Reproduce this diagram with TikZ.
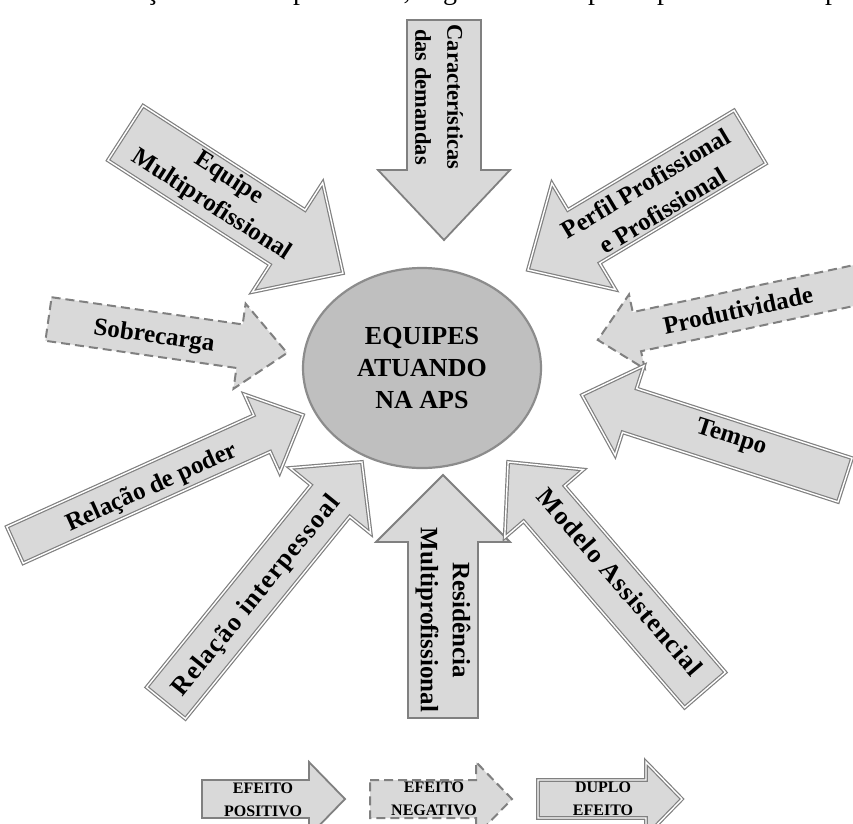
\documentclass[tikz,border=0pt]{standalone}
\usepackage{fontspec}
\setmainfont{Liberation Serif}
\usetikzlibrary{shapes.geometric}

\definecolor{shade}{RGB}{217,217,217}
\definecolor{rim}{RGB}{128,128,128}
\definecolor{corefill}{RGB}{191,191,191}
\definecolor{corerim}{RGB}{140,140,140}

\tikzset{
  goodfx/.style={draw=rim, fill=shade, line width=1.8pt, line join=miter},
  badfx/.style={draw=rim, fill=shade, line width=2pt, dash pattern=on 9pt off 5pt},
  bothfx/.style={draw=rim, fill=shade, line width=1.2pt, double=white,
                 double distance=1.4pt, line join=miter},
  armtext/.style={font=\bfseries\fontsize{25}{32}\selectfont, align=center, inner sep=0pt},
  uprighttext/.style={font=\bfseries\fontsize{22.5}{32}\selectfont, align=center, inner sep=0pt},
  widetext/.style={font=\bfseries\fontsize{26}{32}\selectfont\addfontfeature{LetterSpace=#1},
                   align=center, inner sep=0pt},
  legendtxt/.style={font=\bfseries\fontsize{16}{23}\selectfont, align=center, inner sep=0pt},
  frag/.style={font=\fontsize{28}{34}\selectfont, anchor=base, inner sep=0pt},
}

% block arrow: style, tail centre, direction, total length,
% shaft half-width, head half-width, head length
\newcommand\blockarrow[7]{%
  \begin{scope}[shift={#2}, rotate=#3]
    \draw[#1] (0,-#5) -- ({#4-#7},-#5) -- ({#4-#7},-#6) -- (#4,0)
      -- ({#4-#7},#6) -- ({#4-#7},#5) -- (0,#5) -- cycle;
  \end{scope}}

\begin{document}
\begin{tikzpicture}[x=1pt,y=-1pt]
\useasboundingbox (0,0) rectangle (853,823);
\fill[white] (0,0) rectangle (853,823);
\clip (0,0) rectangle (853,823);

% descenders of the running text line above the figure
\node[frag] (f1) at (152,-0.5) {ç};
\node[frag] (f2) at (300,-0.5) {p};
\node[frag] (f3) at (407,-0.5) {,};
\node[frag] (f4) at (450,-0.5) {g};
\node[frag] (f5) at (595,-0.5) {p};
\node[frag] (f6) at (664,-0.5) {p};
\node[frag] (f7) at (832,-0.5) {p};

% central ellipse
\node[ellipse, draw=corerim, fill=corefill, line width=2.2pt,
      minimum width=238pt, minimum height=200pt, inner sep=0pt, align=center,
      font=\bfseries\fontsize{26}{32}\selectfont] (core) at (422,368)
      {EQUIPES\\ATUANDO\\NA APS};

% factors pointing at the centre
\blockarrow{goodfx}{(444,20)}{-90}{220}{37}{66}{70}
\node[uprighttext, rotate=-90] (demandas) at (439,97) {Características\\das demandas};

\blockarrow{goodfx}{(443,718)}{90}{243}{35}{67}{67}
\node[armtext, rotate=-90] (residencia) at (443,620) {Residência\\Multiprofissional};

\blockarrow{bothfx}{(125.5,133)}{-32.8}{258.7}{32.5}{65}{66}
\node[armtext, rotate=-32.8] (equipe) at (220,192) {Equipe\\Multiprofissional};

\blockarrow{bothfx}{(750,137)}{-149.1}{258.8}{31}{62}{65}
\node[armtext, rotate=30.9] (perfil) at (654,197) {Perfil Profissional\\e Profissional};

\blockarrow{badfx}{(48.5,319)}{-8.1}{241}{22}{43}{48}
\node[armtext, rotate=-8.1] (sobrecarga) at (154,337) {Sobrecarga};

\blockarrow{badfx}{(901,275.5)}{-168}{310}{20}{38}{40}
\node[armtext, rotate=12] (produtividade) at (738,310) {Produtividade};

\blockarrow{bothfx}{(15,545)}{24.3}{316}{20}{43}{45}
\node[armtext, rotate=24.3] (poder) at (152,488) {Relação de poder};

\blockarrow{bothfx}{(166,703)}{50.9}{310.6}{25}{52}{50}
\node[widetext=5, rotate=50.9] (interpessoal) at (257,596) {Relação interpessoal};

\blockarrow{bothfx}{(845,480)}{162.1}{276.4}{23}{47}{50}
\node[armtext, rotate=-17.9] (tempo) at (731,438) {Tempo};

\blockarrow{bothfx}{(705,690)}{130.8}{301.3}{27}{52}{55}
\node[widetext=4, rotate=-49.2] (modelo) at (620,582) {Modelo Assistencial};

% legend
\blockarrow{goodfx}{(202,799)}{0}{143}{19}{37}{36}
\node[legendtxt] (positivo) at (263,800) {EFEITO\\POSITIVO};
\blockarrow{badfx}{(370,799)}{0}{142}{19}{37}{36}
\node[legendtxt] (negativo) at (434,799) {EFEITO\\NEGATIVO};
\blockarrow{bothfx}{(538,799)}{0}{144}{19}{37}{36}
\node[legendtxt] (duplo) at (603,799) {DUPLO\\EFEITO};
\end{tikzpicture}
\end{document}
